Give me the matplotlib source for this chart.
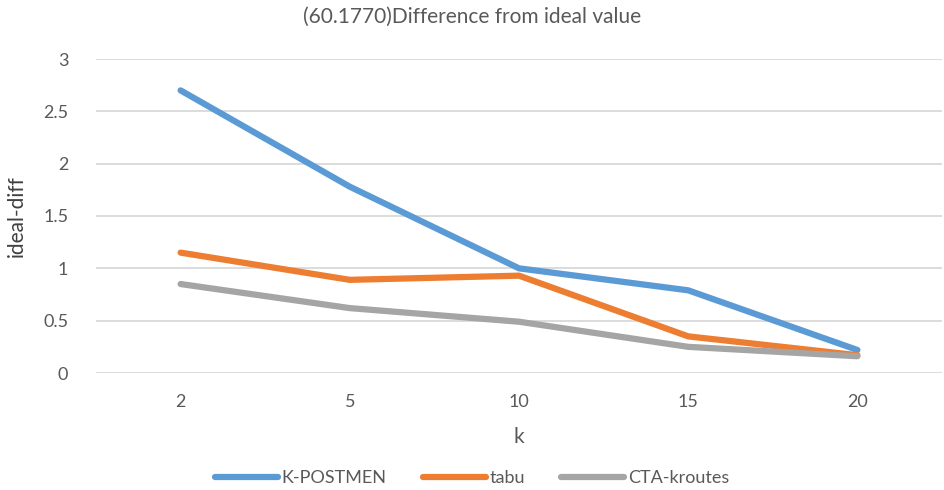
import matplotlib
matplotlib.use('Agg')
import matplotlib.pyplot as plt

plt.rcParams['font.family'] = ['Lato', 'DejaVu Sans']

k_labels = ['2', '5', '10', '15', '20']
k_postmen = [2.70, 1.78, 1.00, 0.79, 0.22]
tabu = [1.15, 0.89, 0.93, 0.35, 0.17]
cta_kroutes = [0.85, 0.62, 0.49, 0.25, 0.16]

x = list(range(len(k_labels)))

fig = plt.figure(figsize=(9.44, 4.9), dpi=100)
ax = fig.add_axes([96/944, 117/490, 846/944, 314/490])

ax.plot(x, k_postmen, color='#5B9BD5', lw=4.5, label='K-POSTMEN', solid_capstyle='round')
ax.plot(x, tabu, color='#ED7D31', lw=4.5, label='tabu', solid_capstyle='round')
ax.plot(x, cta_kroutes, color='#A5A5A5', lw=4.5, label='CTA-kroutes', solid_capstyle='round')

ax.set_xlim(-0.5, len(k_labels) - 0.5)
ax.set_ylim(0, 3)
ax.set_yticks([0, 0.5, 1, 1.5, 2, 2.5, 3])
ax.set_yticklabels(['0', '0.5', '1', '1.5', '2', '2.5', '3'])
ax.set_xticks(x)
ax.set_xticklabels(k_labels)
ax.grid(axis='y', color='#D9D9D9', lw=1.3)
ax.set_axisbelow(True)
for s in ax.spines.values():
    s.set_visible(False)
ax.tick_params(length=0, labelsize=13, colors='#595959', pad=15)
ax.tick_params(axis='y', pad=20)

ax.set_ylabel('ideal-diff', fontsize=15, color='#404040', labelpad=12)
ax.set_xlabel('k', fontsize=15, color='#595959', labelpad=12)
fig.text(0.5, 0.965, '(60.1770)Difference from ideal value', ha='center', va='center',
         fontsize=15, color='#595959')

leg = fig.legend(loc='lower center', ncol=3, frameon=False, fontsize=13,
                 bbox_to_anchor=(0.5, -0.025), handlelength=3.5, columnspacing=2.0,
                 handletextpad=0.2, labelcolor='#595959')

fig.savefig('out.png', dpi=100)
